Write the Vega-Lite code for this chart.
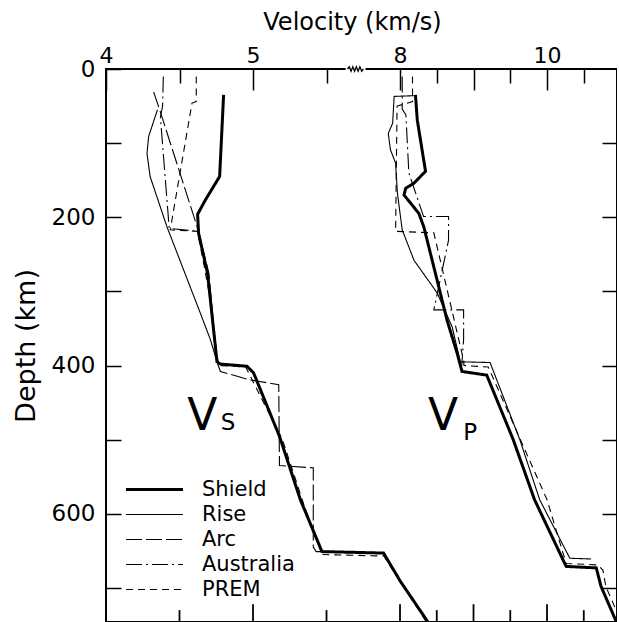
{
  "$schema": "https://vega.github.io/schema/vega-lite/v6.json",
  "autosize": {"type": "none"},
  "padding": {"left": 106, "top": 69, "right": 0, "bottom": 0},
  "width": 511,
  "height": 553,
  "config": {
    "view": {"stroke": "black", "strokeWidth": 2},
    "font": "DejaVu Sans",
    "axis": {"domain": false, "grid": false, "tickColor": "black", "labelColor": "black", "titleColor": "black", "labelFontSize": 22, "titleFontSize": 24, "titleFontWeight": "normal", "tickWidth": 1.5, "labelFlush": false}
  },
  "datasets": {
    "vs": [
      {"model": "Shield", "i": 1, "v": 4.80, "depth": 35},
      {"model": "Shield", "i": 2, "v": 4.773, "depth": 145},
      {"model": "Shield", "i": 3, "v": 4.675, "depth": 177},
      {"model": "Shield", "i": 4, "v": 4.623, "depth": 196},
      {"model": "Shield", "i": 5, "v": 4.63, "depth": 222},
      {"model": "Shield", "i": 6, "v": 4.691, "depth": 276},
      {"model": "Shield", "i": 7, "v": 4.755, "depth": 395},
      {"model": "Shield", "i": 8, "v": 4.778, "depth": 398},
      {"model": "Shield", "i": 9, "v": 4.959, "depth": 401},
      {"model": "Shield", "i": 10, "v": 5.004, "depth": 410},
      {"model": "Shield", "i": 11, "v": 5.181, "depth": 496},
      {"model": "Shield", "i": 12, "v": 5.322, "depth": 581},
      {"model": "Shield", "i": 13, "v": 5.469, "depth": 651},
      {"model": "Shield", "i": 14, "v": 5.888, "depth": 653},
      {"model": "Shield", "i": 15, "v": 6.002, "depth": 691},
      {"model": "Shield", "i": 16, "v": 6.19, "depth": 746},
      {"model": "Rise", "i": 1, "v": 4.35, "depth": 55},
      {"model": "Rise", "i": 2, "v": 4.29, "depth": 91},
      {"model": "Rise", "i": 3, "v": 4.279, "depth": 114},
      {"model": "Rise", "i": 4, "v": 4.30, "depth": 145},
      {"model": "Rise", "i": 5, "v": 4.415, "depth": 213},
      {"model": "Rise", "i": 6, "v": 4.528, "depth": 271},
      {"model": "Rise", "i": 7, "v": 4.641, "depth": 329},
      {"model": "Rise", "i": 8, "v": 4.71, "depth": 365},
      {"model": "Rise", "i": 9, "v": 4.755, "depth": 395},
      {"model": "Arc", "i": 1, "v": 4.324, "depth": 31},
      {"model": "Arc", "i": 2, "v": 4.365, "depth": 55},
      {"model": "Arc", "i": 3, "v": 4.63, "depth": 219},
      {"model": "Arc", "i": 4, "v": 4.70, "depth": 276},
      {"model": "Arc", "i": 5, "v": 4.755, "depth": 395},
      {"model": "Arc", "i": 6, "v": 4.778, "depth": 408},
      {"model": "Arc", "i": 7, "v": 4.97, "depth": 419},
      {"model": "Arc", "i": 8, "v": 5.175, "depth": 426},
      {"model": "Arc", "i": 9, "v": 5.18, "depth": 535},
      {"model": "Arc", "i": 10, "v": 5.41, "depth": 538},
      {"model": "Arc", "i": 11, "v": 5.41, "depth": 645},
      {"model": "Arc", "i": 12, "v": 5.43, "depth": 651},
      {"model": "Arc", "i": 13, "v": 5.469, "depth": 651},
      {"model": "Australia", "i": 1, "v": 4.39, "depth": 10},
      {"model": "Australia", "i": 2, "v": 4.385, "depth": 50},
      {"model": "Australia", "i": 3, "v": 4.37, "depth": 65},
      {"model": "Australia", "i": 4, "v": 4.43, "depth": 215},
      {"model": "Australia", "i": 5, "v": 4.63, "depth": 219},
      {"model": "Australia", "i": 6, "v": 4.69, "depth": 276},
      {"model": "Australia", "i": 7, "v": 4.755, "depth": 395},
      {"model": "PREM", "i": 1, "v": 4.614, "depth": 10},
      {"model": "PREM", "i": 2, "v": 4.614, "depth": 44},
      {"model": "PREM", "i": 3, "v": 4.585, "depth": 46},
      {"model": "PREM", "i": 4, "v": 4.437, "depth": 217},
      {"model": "PREM", "i": 5, "v": 4.623, "depth": 219},
      {"model": "PREM", "i": 6, "v": 4.70, "depth": 300},
      {"model": "PREM", "i": 7, "v": 4.765, "depth": 400},
      {"model": "PREM", "i": 8, "v": 4.95, "depth": 402},
      {"model": "PREM", "i": 9, "v": 5.2, "depth": 500},
      {"model": "PREM", "i": 10, "v": 5.35, "depth": 590},
      {"model": "PREM", "i": 11, "v": 5.47, "depth": 655},
      {"model": "PREM", "i": 12, "v": 5.89, "depth": 657},
      {"model": "PREM", "i": 13, "v": 6.0, "depth": 691},
      {"model": "PREM", "i": 14, "v": 6.18, "depth": 746}
    ],
    "vp": [
      {"model": "Shield", "i": 1, "v": 8.21, "depth": 35},
      {"model": "Shield", "i": 2, "v": 8.235, "depth": 69},
      {"model": "Shield", "i": 3, "v": 8.347, "depth": 138},
      {"model": "Shield", "i": 4, "v": 8.19, "depth": 154},
      {"model": "Shield", "i": 5, "v": 8.077, "depth": 161},
      {"model": "Shield", "i": 6, "v": 8.054, "depth": 170},
      {"model": "Shield", "i": 7, "v": 8.145, "depth": 181},
      {"model": "Shield", "i": 8, "v": 8.257, "depth": 195},
      {"model": "Shield", "i": 9, "v": 8.324, "depth": 213},
      {"model": "Shield", "i": 10, "v": 8.505, "depth": 285},
      {"model": "Shield", "i": 11, "v": 8.64, "depth": 339},
      {"model": "Shield", "i": 12, "v": 8.776, "depth": 383},
      {"model": "Shield", "i": 13, "v": 8.843, "depth": 408},
      {"model": "Shield", "i": 14, "v": 9.18, "depth": 413},
      {"model": "Shield", "i": 15, "v": 9.54, "depth": 500},
      {"model": "Shield", "i": 16, "v": 9.83, "depth": 581},
      {"model": "Shield", "i": 17, "v": 10.26, "depth": 671},
      {"model": "Shield", "i": 18, "v": 10.67, "depth": 673},
      {"model": "Shield", "i": 19, "v": 10.735, "depth": 698},
      {"model": "Shield", "i": 20, "v": 10.94, "depth": 745},
      {"model": "Rise", "i": 1, "v": 8.19, "depth": 36},
      {"model": "Rise", "i": 2, "v": 7.92, "depth": 37},
      {"model": "Rise", "i": 3, "v": 7.90, "depth": 73},
      {"model": "Rise", "i": 4, "v": 7.84, "depth": 87},
      {"model": "Rise", "i": 5, "v": 7.87, "depth": 109},
      {"model": "Rise", "i": 6, "v": 7.94, "depth": 127},
      {"model": "Rise", "i": 7, "v": 7.965, "depth": 168},
      {"model": "Rise", "i": 8, "v": 8.03, "depth": 217},
      {"model": "Rise", "i": 9, "v": 8.19, "depth": 258},
      {"model": "Rise", "i": 10, "v": 8.505, "depth": 302},
      {"model": "Rise", "i": 11, "v": 8.71, "depth": 348},
      {"model": "Rise", "i": 12, "v": 8.82, "depth": 395},
      {"model": "Rise", "i": 13, "v": 9.225, "depth": 396},
      {"model": "Rise", "i": 14, "v": 9.63, "depth": 500},
      {"model": "Rise", "i": 15, "v": 9.90, "depth": 581},
      {"model": "Rise", "i": 16, "v": 10.31, "depth": 660},
      {"model": "Rise", "i": 17, "v": 10.6, "depth": 661},
      {"model": "PREM", "i": 1, "v": 8.17, "depth": 10},
      {"model": "PREM", "i": 2, "v": 8.17, "depth": 44},
      {"model": "PREM", "i": 3, "v": 7.96, "depth": 50},
      {"model": "PREM", "i": 4, "v": 7.94, "depth": 219},
      {"model": "PREM", "i": 5, "v": 8.46, "depth": 221},
      {"model": "PREM", "i": 6, "v": 8.865, "depth": 393},
      {"model": "PREM", "i": 7, "v": 8.87, "depth": 400},
      {"model": "PREM", "i": 8, "v": 9.2, "depth": 402},
      {"model": "PREM", "i": 9, "v": 10.0, "depth": 581},
      {"model": "PREM", "i": 10, "v": 10.26, "depth": 667},
      {"model": "PREM", "i": 11, "v": 10.69, "depth": 669},
      {"model": "PREM", "i": 12, "v": 10.76, "depth": 676},
      {"model": "PREM", "i": 13, "v": 10.80, "depth": 698},
      {"model": "PREM", "i": 14, "v": 10.94, "depth": 730},
      {"model": "Australia", "i": 1, "v": 8.03, "depth": 10},
      {"model": "Australia", "i": 2, "v": 8.03, "depth": 54},
      {"model": "Australia", "i": 3, "v": 8.08, "depth": 62},
      {"model": "Australia", "i": 4, "v": 8.12, "depth": 140},
      {"model": "Australia", "i": 5, "v": 8.32, "depth": 199},
      {"model": "Australia", "i": 6, "v": 8.66, "depth": 199},
      {"model": "Australia", "i": 7, "v": 8.66, "depth": 231},
      {"model": "Australia", "i": 8, "v": 8.46, "depth": 325},
      {"model": "Australia", "i": 9, "v": 8.865, "depth": 325},
      {"model": "Australia", "i": 10, "v": 8.865, "depth": 365},
      {"model": "Australia", "i": 11, "v": 8.84, "depth": 400}
    ],
    "brk": [
      {"i": 1, "v": 5.643, "depth": 0},
      {"i": 2, "v": 5.655, "depth": -3},
      {"i": 3, "v": 5.667, "depth": 3},
      {"i": 4, "v": 5.679, "depth": -3},
      {"i": 5, "v": 5.691, "depth": 3},
      {"i": 6, "v": 5.703, "depth": -3},
      {"i": 7, "v": 5.715, "depth": 3},
      {"i": 8, "v": 5.727, "depth": -3},
      {"i": 9, "v": 5.739, "depth": 3},
      {"i": 10, "v": 5.751, "depth": 0}
    ]
  },
  "layer": [
    {
      "layer": [
        {
          "data": {"name": "vs"},
          "mark": {"type": "line", "color": "black", "strokeCap": "butt"},
          "encoding": {
            "x": {"field": "v", "type": "quantitative", "scale": {"domain": [4, 7.476], "nice": false, "zero": false},
              "axis": {"orient": "top", "values": [4, 4.5, 5, 5.5], "title": "Velocity (km/s)", "titleX": 246, "titlePadding": 10,
                "tickSize": {"condition": {"test": "datum.value % 1 === 0", "value": -21}, "value": -14},
                "labelExpr": "datum.value % 1 === 0 ? format(datum.value, 'd') : ''", "labelPadding": 23}},
            "y": {"field": "depth", "type": "quantitative", "scale": {"domain": [0, 746], "nice": false, "zero": false, "reverse": true},
              "axis": {"orient": "left", "values": [0, 100, 200, 300, 400, 500, 600, 700], "tickSize": -15, "labelExpr": "datum.value % 200 === 0 ? format(datum.value, 'd') : ''", "labelPadding": 26, "labelFontSize": 23, "title": "Depth (km)", "titleFontSize": 27, "titleX": -66}},
            "order": {"field": "i", "type": "quantitative"},
            "detail": {"field": "model"},
            "strokeDash": {"field": "model", "type": "nominal",
              "scale": {"domain": ["Shield", "Rise", "Arc", "Australia", "PREM"], "range": [[1, 0], [1, 0], [16, 4], [16, 4, 2, 4], [7, 5]]},
              "legend": {"orient": "none", "legendX": 38, "legendY": 410, "title": null, "symbolType": "M-3,0H3", "symbolSize": 361, "symbolStrokeColor": "black", "labelFontSize": 21, "labelOffset": 37, "rowPadding": 3, "padding": 0,
                "encode": {"symbols": {"update": {"strokeWidth": {"signal": "datum.value === 'Shield' ? 3 : 1.2"}}}}}},
            "strokeWidth": {"condition": {"test": "datum.model === 'Shield'", "value": 3}, "value": 1.1}
          }
        },
        {
          "data": {"values": [{"t": "V", "v": 4.655, "depth": 487}]},
          "mark": {"type": "text", "fontSize": 44, "baseline": "alphabetic", "color": "black"},
          "encoding": {
            "text": {"field": "t"},
            "x": {"field": "v", "type": "quantitative", "axis": null},
            "y": {"field": "depth", "type": "quantitative"}
          }
        },
        {
          "data": {"values": [{"t": "S", "v": 4.83, "depth": 487}]},
          "mark": {"type": "text", "fontSize": 23, "baseline": "alphabetic", "color": "black"},
          "encoding": {
            "text": {"field": "t"},
            "x": {"field": "v", "type": "quantitative", "axis": null},
            "y": {"field": "depth", "type": "quantitative"}
          }
        },
        {
          "data": {"values": [{"v": 5}]},
          "mark": {"type": "rule", "color": "black", "strokeWidth": 1.8},
          "encoding": {
            "x": {"field": "v", "type": "quantitative", "axis": null},
            "y": {"datum": 746, "type": "quantitative"},
            "y2": {"datum": 722}
          }
        },
        {
          "data": {"values": [{"v": 4.5}, {"v": 5.5}]},
          "mark": {"type": "rule", "color": "black", "strokeWidth": 1.8},
          "encoding": {
            "x": {"field": "v", "type": "quantitative", "axis": null},
            "y": {"datum": 746, "type": "quantitative"},
            "y2": {"datum": 730}
          }
        },
        {
          "data": {"values": [{"v": 5.63, "v2": 5.765, "depth": 0}]},
          "mark": {"type": "rule", "color": "white", "strokeWidth": 4},
          "encoding": {
            "x": {"field": "v", "type": "quantitative", "axis": null},
            "x2": {"field": "v2"},
            "y": {"field": "depth", "type": "quantitative"}
          }
        },
        {
          "data": {"name": "brk"},
          "mark": {"type": "line", "color": "black", "strokeWidth": 1.3},
          "encoding": {
            "x": {"field": "v", "type": "quantitative", "axis": null},
            "y": {"field": "depth", "type": "quantitative"},
            "order": {"field": "i", "type": "quantitative"}
          }
        }
      ],
      "resolve": {"axis": {"x": "independent"}}
    },
    {
      "layer": [
        {
          "data": {"name": "vp"},
          "mark": {"type": "line", "color": "black", "strokeCap": "butt"},
          "encoding": {
            "x": {"field": "v", "type": "quantitative", "scale": {"domain": [4, 10.952], "nice": false, "zero": false},
              "axis": {"orient": "top", "values": [8, 8.5, 9, 9.5, 10, 10.5], "title": null,
                "tickSize": {"condition": {"test": "datum.value % 1 === 0", "value": -21}, "value": -14},
                "labelExpr": "datum.value === 8 || datum.value === 10 ? format(datum.value, 'd') : ''", "labelPadding": 23}},
            "y": {"field": "depth", "type": "quantitative",
              "axis": {"orient": "right", "values": [100, 200, 300, 400, 500, 600, 700], "tickSize": -15, "labels": false, "title": null}},
            "order": {"field": "i", "type": "quantitative"},
            "detail": {"field": "model"},
            "strokeDash": {"field": "model", "type": "nominal",
              "legend": {"orient": "none", "legendX": 38, "legendY": 410, "title": null, "symbolType": "M-3,0H3", "symbolSize": 361, "symbolStrokeColor": "black", "labelFontSize": 21, "labelOffset": 37, "rowPadding": 3, "padding": 0,
                "encode": {"symbols": {"update": {"strokeWidth": {"signal": "datum.value === 'Shield' ? 3 : 1.2"}}}}}},
            "strokeWidth": {"condition": {"test": "datum.model === 'Shield'", "value": 3}, "value": 1.1}
          }
        },
        {
          "data": {"values": [{"t": "V", "v": 8.584, "depth": 487}]},
          "mark": {"type": "text", "fontSize": 44, "baseline": "alphabetic", "color": "black"},
          "encoding": {
            "text": {"field": "t"},
            "x": {"field": "v", "type": "quantitative", "axis": null},
            "y": {"field": "depth", "type": "quantitative",
              "axis": {"orient": "right", "values": [100, 200, 300, 400, 500, 600, 700], "tickSize": -15, "labels": false, "title": null}}
          }
        },
        {
          "data": {"values": [{"t": "P", "v": 8.955, "depth": 500}]},
          "mark": {"type": "text", "fontSize": 23, "baseline": "alphabetic", "color": "black"},
          "encoding": {
            "text": {"field": "t"},
            "x": {"field": "v", "type": "quantitative", "axis": null},
            "y": {"field": "depth", "type": "quantitative",
              "axis": {"orient": "right", "values": [100, 200, 300, 400, 500, 600, 700], "tickSize": -15, "labels": false, "title": null}}
          }
        },
        {
          "data": {"values": [{"v": 8}, {"v": 9}, {"v": 10}]},
          "mark": {"type": "rule", "color": "black", "strokeWidth": 1.8},
          "encoding": {
            "x": {"field": "v", "type": "quantitative", "axis": null},
            "y": {"datum": 746, "type": "quantitative",
              "axis": {"orient": "right", "values": [100, 200, 300, 400, 500, 600, 700], "tickSize": -15, "labels": false, "title": null}},
            "y2": {"datum": 722}
          }
        },
        {
          "data": {"values": [{"v": 8.5}, {"v": 9.5}, {"v": 10.5}]},
          "mark": {"type": "rule", "color": "black", "strokeWidth": 1.8},
          "encoding": {
            "x": {"field": "v", "type": "quantitative", "axis": null},
            "y": {"datum": 746, "type": "quantitative",
              "axis": {"orient": "right", "values": [100, 200, 300, 400, 500, 600, 700], "tickSize": -15, "labels": false, "title": null}},
            "y2": {"datum": 730}
          }
        }
      ],
      "resolve": {"axis": {"x": "independent"}}
    }
  ],
  "resolve": {"scale": {"x": "independent"}, "axis": {"y": "independent"}}
}
